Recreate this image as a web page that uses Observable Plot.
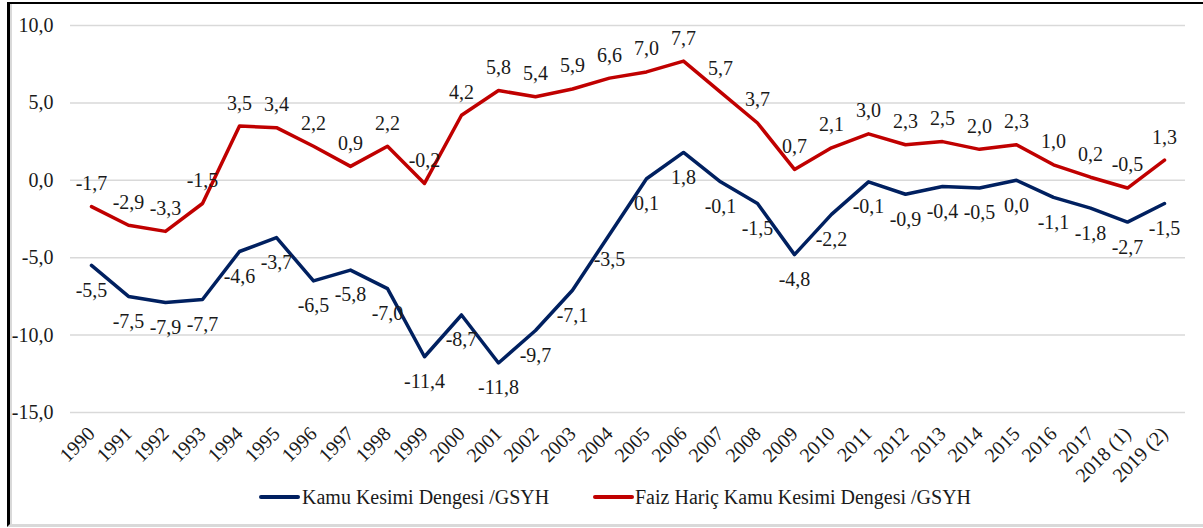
<!DOCTYPE html>
<html>
<head>
<meta charset="utf-8">
<script src="https://cdn.jsdelivr.net/npm/d3@7"></script>
<script src="https://cdn.jsdelivr.net/npm/@observablehq/plot@0.6"></script>
<style>
  html, body { margin: 0; padding: 0; background: #fff; width: 1203px; height: 528px; overflow: hidden; }
  body { position: relative; font-family: "Liberation Serif", "Times New Roman", serif; }
  #frame { position: absolute; left: 7px; top: 2px; width: 1220px; height: 520px;
           border-left: 3px solid #000; border-top: 2px solid #000; border-bottom: 3px solid #d9d9d9;
           box-shadow: inset 2px 0 0 #d9d9d9; }
  #chart { position: absolute; left: 0; top: 0; }
  #chart svg, #chart svg text { font-family: "Liberation Serif", "Times New Roman", serif !important; }
  .leg { position: absolute; top: 485px; font-size: 20px; color: #1a1a1a; white-space: nowrap; line-height: 24px; }
  .sw { position: absolute; top: 495px; height: 4px; width: 41px; border-radius: 2px; }
</style>
</head>
<body>
<div id="frame"></div>
<div id="chart"></div>
<div class="sw" style="left:259px; background:#002060"></div>
<div class="leg" style="left:302px">Kamu Kesimi Dengesi /GSYH</div>
<div class="sw" style="left:593px; background:#C00000"></div>
<div class="leg" style="left:635px">Faiz Hariç Kamu Kesimi Dengesi /GSYH</div>
<script>
const years = ["1990","1991","1992","1993","1994","1995","1996","1997","1998","1999",
  "2000","2001","2002","2003","2004","2005","2006","2007","2008","2009",
  "2010","2011","2012","2013","2014","2015","2016","2017","2018 (1)","2019 (2)"];
const kamu = [-5.5,-7.5,-7.9,-7.7,-4.6,-3.7,-6.5,-5.8,-7.0,-11.4,
  -8.7,-11.8,-9.7,-7.1,-3.5,0.1,1.8,-0.1,-1.5,-4.8,
  -2.2,-0.1,-0.9,-0.4,-0.5,0.0,-1.1,-1.8,-2.7,-1.5];
const faiz = [-1.7,-2.9,-3.3,-1.5,3.5,3.4,2.2,0.9,2.2,-0.2,
  4.2,5.8,5.4,5.9,6.6,7.0,7.7,5.7,3.7,0.7,
  2.1,3.0,2.3,2.5,2.0,2.3,1.0,0.2,-0.5,1.3];
const yTicks = [-15,-10,-5,0,5,10];
const seriesNames = ["Kamu Kesimi Dengesi /GSYH", "Faiz Hariç Kamu Kesimi Dengesi /GSYH"];
const colors = ["#002060", "#C00000"];

const kamuData = years.map((y, i) => ({year: y, value: kamu[i]}));
const faizData = years.map((y, i) => ({year: y, value: faiz[i]}));
const fmt = v => v.toFixed(1).replace(".", ",");

const chart = Plot.plot({
  width: 1203,
  height: 495,
  marginLeft: 70,
  marginRight: 18,
  marginTop: 25,
  marginBottom: 83,
  style: {fontFamily: "Liberation Serif", fontSize: "20px", color: "#1a1a1a", background: "transparent"},
  x: {type: "point", domain: years, padding: 0.5},
  y: {domain: [-15, 10]},
  marks: [
    Plot.gridY(yTicks, {stroke: "#d9d9d9", strokeOpacity: 1, strokeWidth: 1.5}),
    Plot.axisY(yTicks, {tickSize: 0, tickPadding: 17, tickFormat: fmt, label: null, fontSize: 20}),
    Plot.axisX({tickSize: 0, tickPadding: 18, tickRotate: -45, label: null, fontSize: 20}),
    Plot.line(faizData, {x: "year", y: "value", stroke: colors[1], strokeWidth: 3.5, strokeLinejoin: "round"}),
    Plot.line(kamuData, {x: "year", y: "value", stroke: colors[0], strokeWidth: 3.5, strokeLinejoin: "round"}),
    Plot.text(faizData, {x: "year", y: "value", text: d => fmt(d.value), dy: -23, fontSize: 20, fill: "#1a1a1a"}),
    Plot.text(kamuData, {x: "year", y: "value", text: d => fmt(d.value), dy: 25, fontSize: 20, fill: "#1a1a1a"})
  ]
});
document.getElementById("chart").appendChild(chart);
</script>
</body>
</html>
